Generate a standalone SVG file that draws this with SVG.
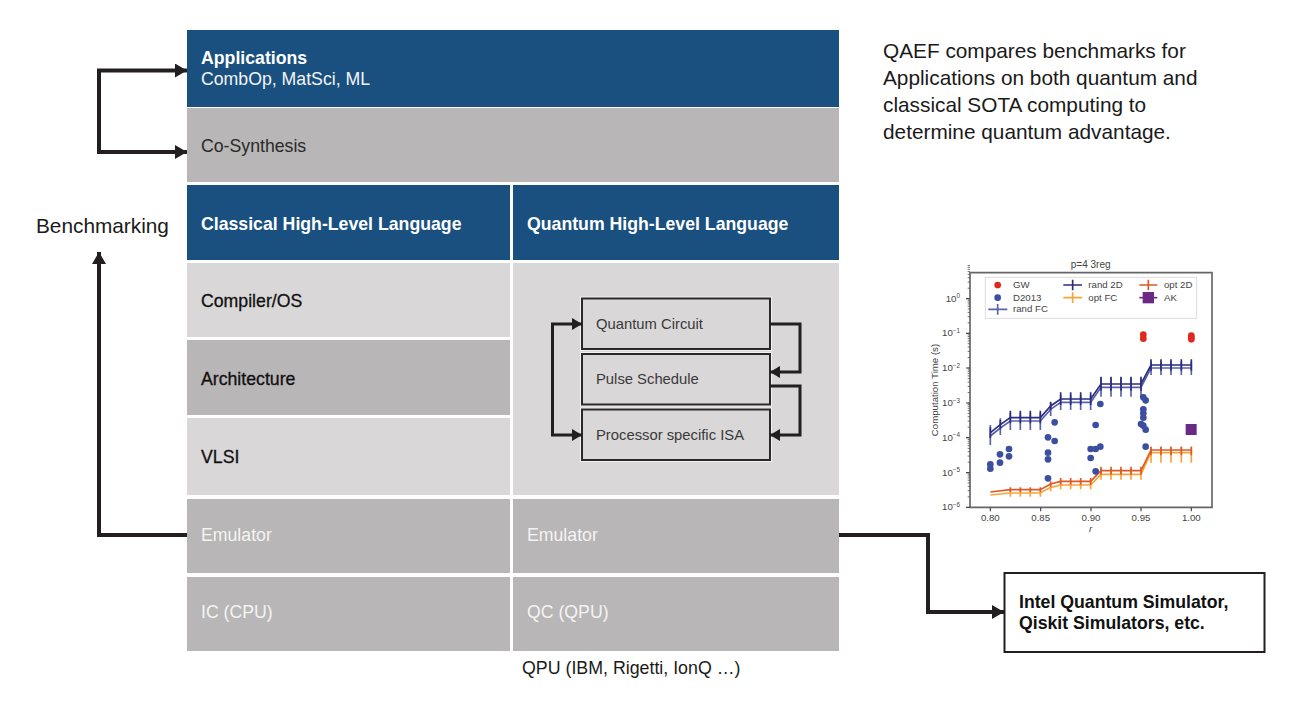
<svg xmlns="http://www.w3.org/2000/svg" width="1300" height="713" viewBox="0 0 1300 713">
<style>
text{font-family:"Liberation Sans",Arial,sans-serif}
.blue{fill:#1a5080}.mid{fill:#b8b6b6}.light{fill:#d9d7d8}
.h{font-size:17.700px;font-weight:bold;fill:#fff}
.w{font-size:17.700px;fill:#f4f4f4}
.d{font-size:17.700px;fill:#2a2a2a}
.b{font-size:17.700px;fill:#111;stroke:#111;stroke-width:.3px}
.halo{fill:none;stroke:#f2f2f2;stroke-width:4}
.inner{fill:#d9d7d8;stroke:#2a2828;stroke-width:2}
.i{font-size:14.800px;fill:#3a3a3a}
.c{fill:none;stroke:#231f20;stroke-width:4}
.c2{fill:none;stroke:#231f20;stroke-width:3}
.n{font-size:20.800px;fill:#1a1a1a}
.ax{fill:none;stroke:#666;stroke-width:5}
.t{font-size:29px;fill:#444}
.e{font-size:19px}
.g{fill:#e0281c}.bd{fill:#3b4ea0}
.r2{fill:none;stroke:#2b2d7c;stroke-width:5}
.rf{fill:none;stroke:#5a62ac;stroke-width:5}
.o2{fill:none;stroke:#dc5a28;stroke-width:5}
.of{fill:none;stroke:#f5a53a;stroke-width:5}
</style>
<defs>
<marker id="a" markerUnits="userSpaceOnUse" markerWidth="13" markerHeight="14" refX="12" refY="7" orient="auto-start-reverse"><path d="M0 0L12 7L0 14z" fill="#231f20"/></marker>
<marker id="s" markerUnits="userSpaceOnUse" markerWidth="11" markerHeight="12" refX="10" refY="6" orient="auto-start-reverse"><path d="M0 0L10 6L0 12z" fill="#231f20"/></marker>
<path id="minor" fill="none" stroke="#555" stroke-width="2.500" d="M143 0h7M143 -31.400h7M143 -49.800h7M143 -62.800h7M143 -72.900h7M143 -81.200h7M143 -88.200h7M143 -94.200h7M143 -99.500h7"/>
</defs>
<g id="applications"><rect class="blue" x="187" y="30" width="652" height="77"/><text class="h" x="201" y="64">Applications</text><text class="w" x="201" y="85">CombOp, MatSci, ML</text></g>
<g id="co-synthesis"><rect class="mid" x="187" y="108" width="652" height="74"/><text class="d" x="201" y="152">Co-Synthesis</text></g>
<g id="classical-hll"><rect class="blue" x="187" y="185" width="323" height="75"/><text class="h" x="201" y="230">Classical High-Level Language</text></g>
<g id="quantum-hll"><rect class="blue" x="513" y="185" width="326" height="75"/><text class="h" x="527" y="230">Quantum High-Level Language</text></g>
<g id="compiler"><rect class="light" x="187" y="263" width="323" height="74"/><text class="b" x="201" y="307">Compiler/OS</text></g>
<g id="architecture"><rect class="mid" x="187" y="340" width="323" height="75"/><text class="b" x="201" y="385">Architecture</text></g>
<g id="vlsi"><rect class="light" x="187" y="418" width="323" height="77"/><text class="b" x="201" y="463">VLSI</text></g>
<g id="quantum-panel"><rect class="light" x="513" y="263" width="326" height="232"/></g>
<g id="quantum-circuit"><rect class="halo" x="582" y="298.500" width="188" height="50.500"/><rect class="inner" x="582" y="298.500" width="188" height="50.500"/><text class="i" x="596" y="329">Quantum Circuit</text></g>
<g id="pulse-schedule"><rect class="halo" x="582" y="354" width="188" height="50.500"/><rect class="inner" x="582" y="354" width="188" height="50.500"/><text class="i" x="596" y="384">Pulse Schedule</text></g>
<g id="processor-isa"><rect class="halo" x="582" y="409.500" width="188" height="50.500"/><rect class="inner" x="582" y="409.500" width="188" height="50.500"/><text class="i" x="596" y="440">Processor specific ISA</text></g>
<g id="emulator-c"><rect class="mid" x="187" y="499" width="323" height="74"/><text class="w" x="201" y="541">Emulator</text></g>
<g id="emulator-q"><rect class="mid" x="513" y="499" width="326" height="74"/><text class="w" x="527" y="541">Emulator</text></g>
<g id="ic-cpu"><rect class="mid" x="187" y="577" width="323" height="74"/><text class="w" x="201" y="618">IC (CPU)</text></g>
<g id="qc-qpu"><rect class="mid" x="513" y="577" width="326" height="74"/><text class="w" x="527" y="618">QC (QPU)</text></g>
<g id="qpu-label"><text x="522" y="674" style="font-size:17.800px;fill:#1a1a1a">QPU (IBM, Rigetti, IonQ …)</text></g>
<g id="benchmarking"><text class="n" x="36" y="233">Benchmarking</text></g>
<g id="qaef-note"><text class="n" x="883" y="58">QAEF compares benchmarks for</text><text class="n" x="883" y="85">Applications on both quantum and</text><text class="n" x="883" y="112">classical SOTA computing to</text><text class="n" x="883" y="139">determine quantum advantage.</text></g>
<g id="simulators"><rect x="1004.500" y="573" width="260" height="79" fill="#fff" stroke="#231f20" stroke-width="2"/><text x="1019" y="608" style="font-size:17.700px;font-weight:bold;fill:#111">Intel Quantum Simulator,</text><text x="1019" y="629" style="font-size:17.700px;font-weight:bold;fill:#111">Qiskit Simulators, etc.</text></g>
<g id="connectors">
<path class="c" d="M187 70.500H99V152H187" marker-start="url(#a)" marker-end="url(#a)"/>
<path class="c" d="M187 535H99V252" marker-end="url(#a)"/>
<path class="c" d="M839 535H928V612H1004" marker-end="url(#a)"/>
<path class="c2" d="M582 324H552.500V435H582" marker-start="url(#s)" marker-end="url(#s)"/>
<path class="c2" d="M770 324H800V372H770" marker-end="url(#s)"/>
<path class="c2" d="M770 386H800V435H770" marker-end="url(#s)"/>
</g>
<g id="chart" transform="translate(920 250) scale(.33333)">
<path class="ax" d="M150 68H876V772H150Z"/>
<path fill="none" stroke="#444" stroke-width="3.500" d="M138 146h12M138 250h12M138 354h12M138 459h12M138 563h12M138 668h12M138 772h12M211 772v12M362 772v12M513 772v12M663 772v12M814 772v12"/>
<use href="#minor" y="772"/><use href="#minor" y="668"/><use href="#minor" y="563"/><use href="#minor" y="459"/><use href="#minor" y="354"/><use href="#minor" y="250"/><use href="#minor" y="146"/>
<text x="512" y="53" text-anchor="middle" style="font-size:30px;fill:#444">p=4 3reg</text>
<g class="t"><text x="120" y="155" text-anchor="end">10<tspan class="e" dy="-10">0</tspan></text><text x="120" y="259" text-anchor="end">10<tspan class="e" dy="-10">−1</tspan></text><text x="120" y="363" text-anchor="end">10<tspan class="e" dy="-10">−2</tspan></text><text x="120" y="468" text-anchor="end">10<tspan class="e" dy="-10">−3</tspan></text><text x="120" y="572" text-anchor="end">10<tspan class="e" dy="-10">−4</tspan></text><text x="120" y="677" text-anchor="end">10<tspan class="e" dy="-10">−5</tspan></text><text x="120" y="781" text-anchor="end">10<tspan class="e" dy="-10">−6</tspan></text>
<text x="211" y="814" text-anchor="middle">0.80</text><text x="362" y="814" text-anchor="middle">0.85</text><text x="513" y="814" text-anchor="middle">0.90</text><text x="663" y="814" text-anchor="middle">0.95</text><text x="814" y="814" text-anchor="middle">1.00</text>
<text x="512" y="846" text-anchor="middle" font-style="italic">r</text>
<text transform="translate(55 420) rotate(-90)" text-anchor="middle">Computation Time (s)</text></g>
<path class="rf" d="M211 558L241 534L271 513H361L392 478L422 457H512L543 412H663L693 354H814"/>
<path class="rf" d="M211 525v60M241 505v50M271 490v50M301 490v50M331 490v50M361 490v50M392 458v40M422 435v45M452 435v45M482 435v45M512 435v45M543 385v55M573 385v55M603 385v55M633 385v55M663 385v55M693 335v40M723 335v40M753 335v40M784 335v40M814 335v40"/>
<path class="r2" d="M211 548L241 524L271 503H361L392 468L422 447H512L543 402H663L693 345H814"/>
<path class="r2" d="M211 532v32M241 510v28M271 482v38M301 482v38M331 482v38M361 482v38M392 455v26M422 427v38M452 427v38M482 427v38M512 427v38M543 380v42M573 380v42M603 380v42M633 380v42M663 380v42M693 328v34M723 328v34M753 328v34M784 328v34M814 328v34"/>
<path class="of" d="M211 735L271 729H361L392 712L422 705H512L543 673H663L693 608H814"/>
<path class="of" d="M271 716v24M301 716v24M331 716v24M361 716v24M392 700v24M422 690v28M452 690v28M482 690v28M512 690v28M543 657v32M573 657v32M603 657v32M633 657v32M663 657v32M693 590v48M723 590v48M753 590v48M784 590v48M814 590v48"/>
<path class="o2" d="M211 726L271 719H361L392 702L422 694H512L543 662H663L693 600H814"/>
<path class="o2" d="M271 712v14M301 712v14M331 712v14M361 712v14M392 694v16M422 684v20M452 684v20M482 684v20M512 684v20M543 650v24M573 650v24M603 650v24M633 650v24M663 650v24M693 590v26M723 590v26M753 590v26M784 590v26M814 590v26"/>
<g class="bd"><circle cx="211" cy="643" r="10"/><circle cx="211" cy="656" r="10"/><circle cx="240" cy="613" r="10"/><circle cx="240" cy="638" r="10"/><circle cx="267" cy="597" r="10"/><circle cx="267" cy="619" r="10"/><circle cx="384" cy="562" r="10"/><circle cx="384" cy="608" r="10"/><circle cx="384" cy="628" r="10"/><circle cx="384" cy="685" r="10"/><circle cx="404" cy="517" r="10"/><circle cx="404" cy="573" r="10"/><circle cx="512" cy="597" r="10"/><circle cx="512" cy="624" r="10"/><circle cx="527" cy="597" r="10"/><circle cx="541" cy="590" r="10"/><circle cx="527" cy="664" r="10"/><circle cx="527" cy="525" r="10"/><circle cx="541" cy="462" r="10"/><circle cx="663" cy="522" r="10"/><circle cx="670" cy="527" r="10"/><circle cx="677" cy="539" r="10"/><circle cx="670" cy="442" r="10"/><circle cx="677" cy="451" r="10"/><circle cx="670" cy="478" r="10"/><circle cx="670" cy="490" r="10"/><circle cx="670" cy="503" r="10"/><circle cx="677" cy="590" r="10"/></g>
<g class="g"><circle cx="670" cy="254" r="10"/><circle cx="670" cy="266" r="10"/><circle cx="814" cy="257" r="10"/><circle cx="814" cy="263" r="10"/><circle cx="814" cy="268" r="10"/></g>
<rect x="797" y="522" width="33" height="33" fill="#6a2a83"/>
<rect x="196" y="82" width="634" height="123" fill="#fff" fill-opacity=".9" stroke="#ddd" stroke-width="3"/>
<circle class="g" cx="233" cy="105" r="10"/><circle class="bd" cx="233" cy="143" r="10"/>
<path class="rf" d="M205 178H262M233 162v32"/>
<path class="r2" d="M430 105H486M458 89v32"/>
<path class="of" d="M430 143H486M458 127v32"/>
<path class="o2" d="M658 105H712M685 89v32"/>
<path class="r2" d="M658 143H712" style="stroke:#6a2a83"/><rect x="668" y="126" width="34" height="34" fill="#6a2a83"/>
<g class="t"><text x="279" y="114">GW</text><text x="279" y="152">D2013</text><text x="279" y="187">rand FC</text><text x="505" y="114">rand 2D</text><text x="505" y="152">opt FC</text><text x="732" y="114">opt 2D</text><text x="732" y="152">AK</text></g>
</g>
</svg>
